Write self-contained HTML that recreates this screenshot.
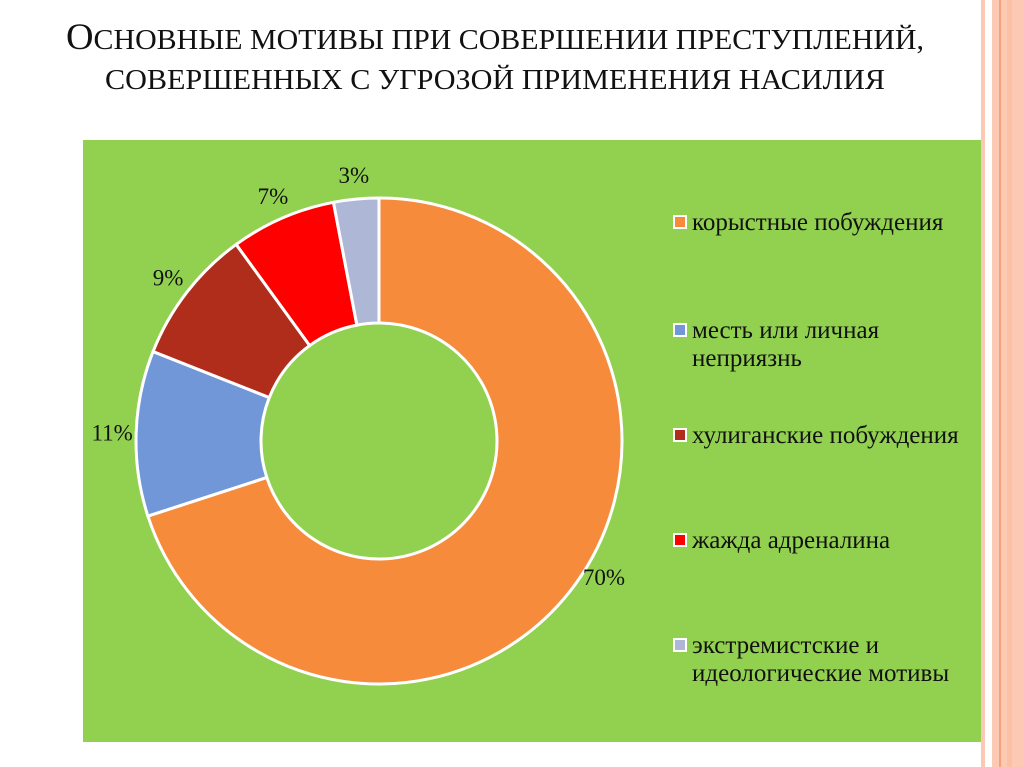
<!DOCTYPE html>
<html><head><meta charset="utf-8"><style>
html,body{margin:0;padding:0;background:#fff;width:1024px;height:767px;overflow:hidden}
svg{display:block}
</style></head><body>
<svg id="chart" width="1024" height="767" viewBox="0 0 1024 767" xmlns="http://www.w3.org/2000/svg" font-family="'Liberation Serif','Noto Serif CJK SC',serif">
  <rect x="981" y="0" width="4" height="767" fill="#FCC8B6"/>
  <rect x="992" y="0" width="32" height="767" fill="#FCCAB4"/>
  <rect x="999" y="0" width="2" height="767" fill="#F2A37C"/>
  <rect x="1007" y="0" width="5" height="767" fill="#FBC0A6"/>
  <text x="495" y="49" text-anchor="middle" font-size="29" fill="#111" textLength="858" lengthAdjust="spacingAndGlyphs"><tspan font-size="37">О</tspan>СНОВНЫЕ МОТИВЫ ПРИ СОВЕРШЕНИИ ПРЕСТУПЛЕНИЙ,</text>
  <text x="495" y="89" text-anchor="middle" font-size="29" fill="#111" textLength="780" lengthAdjust="spacingAndGlyphs">СОВЕРШЕННЫХ С УГРОЗОЙ ПРИМЕНЕНИЯ НАСИЛИЯ</text>
  <rect x="83" y="140" width="898" height="602" fill="#92D050"/>
  <g id="slices"></g>
  <g id="labels"></g>
  <g id="legend"></g>
</svg>
<script>
const categories = ["корыстные побуждения", "месть или личная неприязнь", "хулиганские побуждения", "жажда адреналина", "экстремистские и идеологические мотивы"];
const values = [70, 11, 9, 7, 3];
const valueLabels = ["70%", "11%", "9%", "7%", "3%"];
const colors = ["#F68B3C", "#7297D8", "#B02C1B", "#FF0000", "#AEB7D6"];
const legendLines = [["корыстные побуждения"], ["месть или личная", "неприязнь"], ["хулиганские побуждения"], ["жажда адреналина"], ["экстремистские и", "идеологические мотивы"]];

const NS = "http://www.w3.org/2000/svg";
const cx = 379, cy = 441, R = 243, r = 118;
const total = values.reduce((a, b) => a + b, 0);
function pt(rad, ang) { return [cx + rad * Math.sin(ang), cy - rad * Math.cos(ang)]; }
const gS = document.getElementById('slices'), gL = document.getElementById('labels'), gG = document.getElementById('legend');
let a0 = 0;
values.forEach((v, i) => {
  const a1 = a0 + v / total * 2 * Math.PI;
  const large = (a1 - a0) > Math.PI ? 1 : 0;
  const [x0, y0] = pt(R, a0), [x1, y1] = pt(R, a1), [x2, y2] = pt(r, a1), [x3, y3] = pt(r, a0);
  const p = document.createElementNS(NS, 'path');
  p.setAttribute('d', `M${x0},${y0} A${R},${R} 0 ${large} 1 ${x1},${y1} L${x2},${y2} A${r},${r} 0 ${large} 0 ${x3},${y3} Z`);
  p.setAttribute('fill', colors[i]);
  p.setAttribute('stroke', '#fff');
  p.setAttribute('stroke-width', '3');
  
  
  gS.appendChild(p);
  const mid = (a0 + a1) / 2;
  let [lx, ly] = pt(R + 24, mid);
  if (i === 0) { lx = 604; ly = 577; }
  const t = document.createElementNS(NS, 'text');
  t.setAttribute('x', lx); t.setAttribute('y', ly + 8);
  t.setAttribute('text-anchor', 'middle');
  t.setAttribute('font-size', '23');
  t.setAttribute('fill', '#111');
  t.textContent = valueLabels[i];
  
  
  gL.appendChild(t);
  a0 = a1;
});
const legendY = [222, 330, 435, 540, 645];
categories.forEach((c, i) => {
  const g = document.createElementNS(NS, 'g');
  
  
  const sq = document.createElementNS(NS, 'rect');
  sq.setAttribute('x', 674); sq.setAttribute('y', legendY[i] - 6);
  sq.setAttribute('width', 12); sq.setAttribute('height', 12);
  sq.setAttribute('fill', colors[i]); sq.setAttribute('stroke', '#fff'); sq.setAttribute('stroke-width', '2');
  
  
  g.appendChild(sq);
  legendLines[i].forEach((ln, j) => {
    const t = document.createElementNS(NS, 'text');
    t.setAttribute('x', 692); t.setAttribute('y', legendY[i] + 8 + j * 28);
    t.setAttribute('font-size', '25'); t.setAttribute('fill', '#111');
    t.textContent = ln;
    
    
    g.appendChild(t);
  });
  gG.appendChild(g);
});
</script>
</body></html>
